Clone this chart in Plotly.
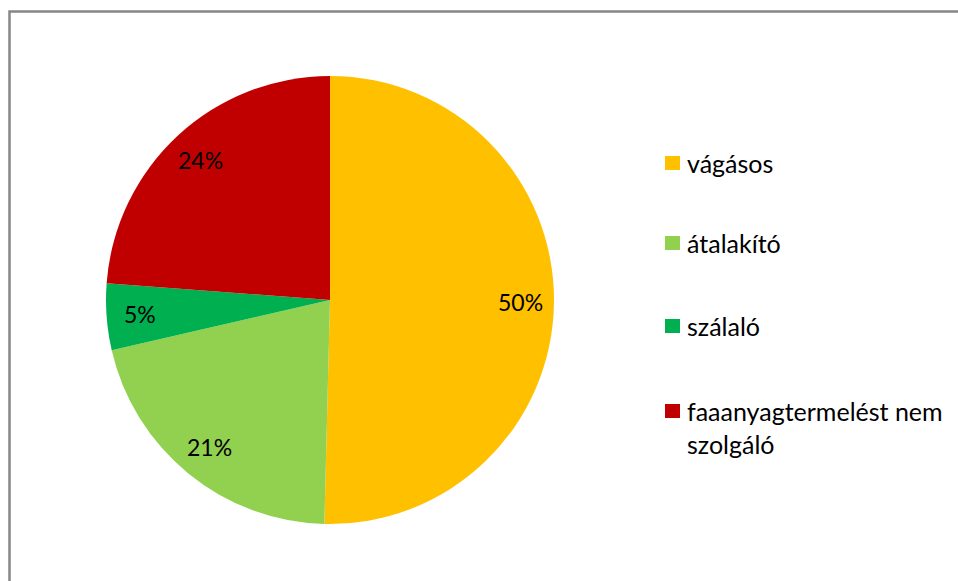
import math
import plotly.graph_objects as go

# Data
categories = ["vágásos", "átalakító", "szálaló", "faaanyagtermelést nem szolgáló"]
legend_text = ["vágásos", "átalakító", "szálaló", "faaanyagtermelést nem<br>szolgáló"]
shares = [50.4, 21.0, 4.8, 23.8]
colors = ["#FFC000", "#92D050", "#00B050", "#C00000"]

W, H = 958, 581
FONT = "Lato"
CX, CY, R = 330, 300, 224  # pie centre / radius in pixels (layout)

fig = go.Figure()
fig.add_trace(go.Pie(
    labels=categories,
    values=shares,
    sort=False,
    direction="clockwise",
    rotation=0,
    marker=dict(colors=colors, line=dict(width=0)),
    textinfo="none",
    showlegend=False,
    hoverinfo="label+percent",
    domain=dict(x=[(CX - R) / W, (CX + R) / W], y=[1 - (CY + R) / H, 1 - (CY - R) / H]),
))

annotations = []
shapes = []

# Percentage labels, placed at the mid-angle of each slice
total = sum(shares)
cum = 0.0
for v in shares:
    mid = (cum + v / 2) / total * 2 * math.pi
    cum += v
    px = CX + 0.85 * R * math.sin(mid)
    py = CY - 0.85 * R * math.cos(mid)
    annotations.append(dict(x=px / W, y=1 - py / H, xref="paper", yref="paper",
                            text=f"{round(v / total * 100)}%", showarrow=False,
                            xanchor="center", yanchor="middle",
                            font=dict(family=FONT, size=23, color="#000000")))

# Manual legend (Excel-style, wide row spacing)
legend_rows_y = [163, 243, 326, 411]
for i, (txt, col) in enumerate(zip(legend_text, colors)):
    yc = legend_rows_y[i]
    shapes.append(dict(type="rect", xref="paper", yref="paper",
                       x0=665 / W, x1=680 / W, y0=1 - (yc + 7) / H, y1=1 - (yc - 7) / H,
                       fillcolor=col, line=dict(width=0)))
    annotations.append(dict(x=685 / W, y=1 - (yc - 17) / H, xref="paper", yref="paper",
                            text=txt, showarrow=False, xanchor="left", yanchor="top",
                            align="left", font=dict(family=FONT, size=25, color="#000000")))

# Outer frame
shapes.append(dict(type="rect", xref="paper", yref="paper",
                   x0=9.5 / W, x1=1.02, y0=-0.02, y1=1 - 11.5 / H,
                   line=dict(color="#878787", width=2.5), fillcolor="rgba(0,0,0,0)"))

fig.update_layout(
    width=W, height=H,
    margin=dict(l=0, r=0, t=0, b=0),
    paper_bgcolor="white",
    plot_bgcolor="white",
    shapes=shapes,
    annotations=annotations,
)

fig.write_html("out.html", config={"displayModeBar": False},
               post_script="document.body.style.margin='0';document.body.style.overflow='hidden';")
